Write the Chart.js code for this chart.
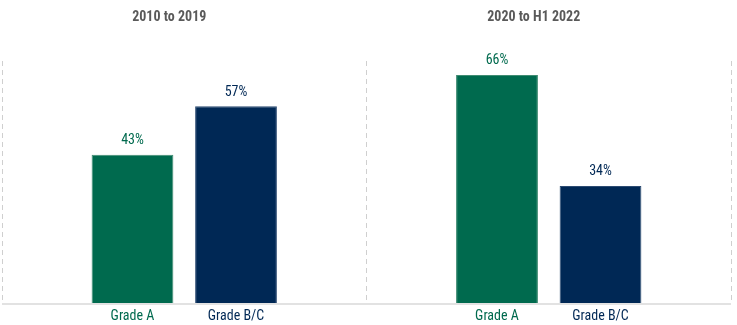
<!DOCTYPE html>
<html>
<head>
<meta charset="utf-8">
<script src="https://cdn.jsdelivr.net/npm/chart.js@4"></script>
<style>
  html, body { margin: 0; padding: 0; background: #fff; }
  #wrap { width: 737px; height: 325px; }
</style>
</head>
<body>
<div id="wrap"><canvas id="gradeChart"></canvas></div>
<script>
var periods = ['2010 to 2019', '2020 to H1 2022'];
var gradeA = [43, 66];
var gradeBC = [57, 34];
var seriesNames = ['Grade A', 'Grade B/C'];
var colors = ['#006a4e', '#002855'];

var fontFamily = "'Roboto Condensed', 'Liberation Sans Narrow', Roboto, sans-serif";

// value labels above the bars, series name below each bar
var barLabels = {
    id: 'barLabels',
    afterDatasetsDraw(chart) {
        var ctx = chart.ctx;
        var area = chart.chartArea;
        ctx.save();
        ctx.textAlign = 'center';
        ctx.textBaseline = 'middle';
        chart.data.datasets.forEach(function (ds, i) {
            var meta = chart.getDatasetMeta(i);
            meta.data.forEach(function (bar, j) {
                ctx.fillStyle = ds.backgroundColor;
                ctx.font = '14px ' + fontFamily;
                ctx.fillText(ds.data[j] + '%', bar.x, bar.y - 14);
                ctx.fillText(ds.label, bar.x, area.bottom + 12);
            });
        });
        ctx.restore();
    }
};

new Chart(document.getElementById('gradeChart').getContext('2d'), {
    type: 'bar',
    data: {
        labels: periods,
        datasets: [{
            label: seriesNames[0],
            data: gradeA,
            backgroundColor: colors[0],
            borderColor: '#3f8c72',
            borderWidth: 1
        }, {
            label: seriesNames[1],
            data: gradeBC,
            backgroundColor: colors[1],
            borderColor: '#2c4b72',
            borderWidth: 1
        }]
    },
    options: {
        responsive: true,
        maintainAspectRatio: false,
        animation: false,
        categoryPercentage: 0.568,
        barPercentage: 0.79,
        layout: { padding: { left: 2, right: 6, top: 0, bottom: 0 } },
        plugins: {
            legend: { display: false },
            tooltip: { enabled: false }
        },
        scales: {
            y: {
                min: 0,
                max: 70,
                ticks: { display: false, stepSize: 10 },
                // only the zero line is shown, as a solid baseline
                grid: {
                    drawTicks: false,
                    lineWidth: 2,
                    color: function (c) { return c.tick && c.tick.value === 0 ? '#e2e2e2' : 'rgba(0,0,0,0)'; }
                },
                border: { display: false },
                afterFit(scale) { scale.width = 0; }
            },
            x: {
                position: 'bottom',
                ticks: { display: false },
                grid: {
                    offset: true,
                    drawTicks: false,
                    color: '#cfcfcf',
                    lineWidth: 1
                },
                border: { display: false, dash: [5, 4] },
                afterFit(scale) { scale.height = 21; }
            },
            x2: {
                type: 'category',
                position: 'top',
                labels: periods,
                grid: { display: false, drawTicks: false },
                border: { display: false },
                ticks: {
                    color: '#595959',
                    font: { family: fontFamily, size: 14, weight: 'bold' },
                    padding: 35,
                    labelOffset: -15
                },
                afterFit(scale) { scale.height = 61; }
            }
        }
    },
    plugins: [barLabels]
});
</script>
</body>
</html>
